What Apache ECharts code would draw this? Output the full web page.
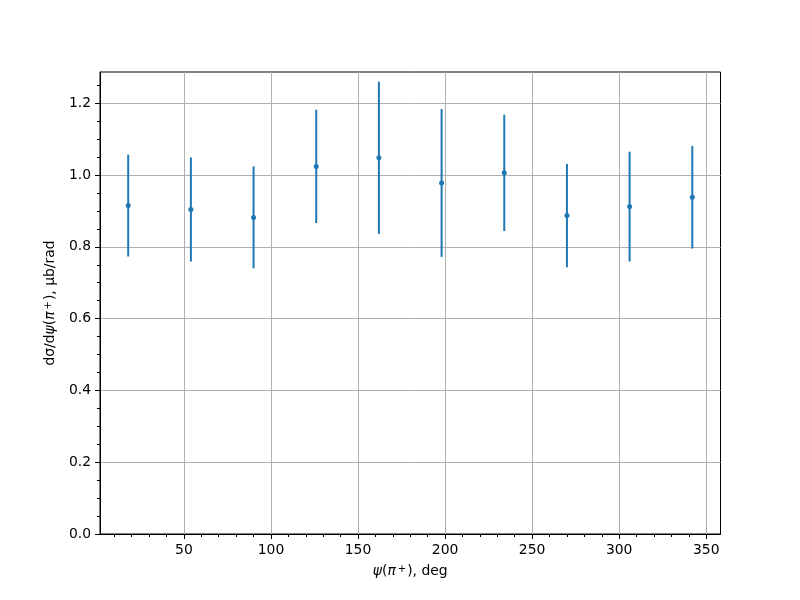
<!DOCTYPE html>
<html>
<head>
<meta charset="utf-8">
<script src="https://cdn.jsdelivr.net/npm/echarts@6/dist/echarts.min.js"></script>
<style>
  html, body { margin: 0; padding: 0; background: #fff; }
  #chart { width: 800px; height: 600px; }
</style>
</head>
<body>
<div id="chart"></div>
<script>
// angle bins (deg), cross section (μb/rad) and its error
const angles = [18, 54, 90, 126, 162, 198, 234, 270, 306, 342];
const values = [0.915, 0.904, 0.882, 1.024, 1.048, 0.978, 1.006, 0.887, 0.912, 0.938];
const errors = [0.142, 0.145, 0.142, 0.158, 0.212, 0.206, 0.162, 0.144, 0.153, 0.143];

// tick labels
const xMajor = [50, 100, 150, 200, 250, 300, 350];
const xMinor = [10, 20, 30, 40, 60, 70, 80, 90, 110, 120, 130, 140, 160, 170, 180, 190,
  210, 220, 230, 240, 260, 270, 280, 290, 310, 320, 330, 340];
const yMajor = [0, 0.2, 0.4, 0.6, 0.8, 1.0, 1.2];
const yMinor = [0.05, 0.1, 0.15, 0.25, 0.3, 0.35, 0.45, 0.5, 0.55, 0.65, 0.7, 0.75,
  0.85, 0.9, 0.95, 1.05, 1.1, 1.15, 1.25];

const xMin = 1.8, xMax = 358.2;
const yMin = 0, yMax = 1.287;

const blue = "#1f77b4";
const font = "DejaVu Sans";

let chart = echarts.init(document.getElementById("chart"));

let points = angles.map((a, i) => [a, values[i]]);
let bars = angles.map((a, i) => [a, values[i] - errors[i], values[i] + errors[i]]);

// mathtext-like pieces for axis names
let richText = {
  it: { fontStyle: "italic", fontFamily: font, fontSize: 13.9, color: "#000" },
  sup: { fontFamily: font, fontSize: 10, color: "#000", verticalAlign: "top", padding: [0, 1, 0, 2] },
};

let option = {
  animation: false,
  grid: {
    left: 100, right: 79.5, top: 72, bottom: 66,
    show: true, borderColor: "#000", borderWidth: 1,
  },
  xAxis: [
    {
      type: "value", min: xMin, max: xMax, position: "bottom",
      axisLine: { lineStyle: { color: "#000", width: 1 } },
      axisTick: { customValues: xMajor, length: 5, lineStyle: { color: "#000" } },
      axisLabel: { customValues: xMajor, margin: 9, color: "#000", fontFamily: font, fontSize: 13.9 },
      splitLine: { show: true, lineStyle: { color: "#b0b0b0", width: 1 } },
      name: "{it|ψ}({it|π}{sup|+}), deg",
      nameLocation: "middle",
      nameGap: 30,
      nameTextStyle: { color: "#000", fontFamily: font, fontSize: 13.9, rich: richText },
    },
    {
      type: "value", min: xMin, max: xMax, position: "bottom",
      axisLine: { show: false },
      axisTick: { customValues: xMinor, length: 3, lineStyle: { color: "#000" } },
      axisLabel: { show: false },
      splitLine: { show: false },
    },
  ],
  yAxis: [
    {
      type: "value", min: yMin, max: yMax, position: "left",
      axisLine: { show: true, lineStyle: { color: "#000", width: 1 } },
      axisTick: { show: true, customValues: yMajor, length: 5, lineStyle: { color: "#000" } },
      axisLabel: {
        customValues: yMajor, margin: 9, color: "#000", fontFamily: font, fontSize: 13.9,
        formatter: (v) => v.toFixed(1),
      },
      splitLine: { show: true, lineStyle: { color: "#b0b0b0", width: 1 } },
      name: "dσ/d{it|ψ}({it|π}{sup|+}), μb/rad",
      nameLocation: "middle",
      nameGap: 43,
      nameRotate: 90,
      nameTextStyle: { color: "#000", fontFamily: font, fontSize: 13.9, rich: richText },
    },
    {
      type: "value", min: yMin, max: yMax, position: "left",
      axisLine: { show: false },
      axisTick: { show: true, customValues: yMinor, length: 3, lineStyle: { color: "#000" } },
      axisLabel: { show: false },
      splitLine: { show: false },
    },
  ],
  series: [
    {
      type: "custom",
      xAxisIndex: 0, yAxisIndex: 0,
      data: bars,
      renderItem: function (params, api) {
        let lo = api.coord([api.value(0), api.value(1)]);
        let hi = api.coord([api.value(0), api.value(2)]);
        return {
          type: "line",
          shape: { x1: lo[0], y1: lo[1], x2: hi[0], y2: hi[1] },
          style: { stroke: blue, lineWidth: 2 },
        };
      },
      z: 2,
    },
    {
      type: "scatter",
      xAxisIndex: 0, yAxisIndex: 0,
      data: points,
      symbol: "circle",
      symbolSize: 5,
      itemStyle: { color: blue, opacity: 1 },
      z: 3,
    },
  ],
};
chart.setOption(option);
</script>
</body>
</html>
